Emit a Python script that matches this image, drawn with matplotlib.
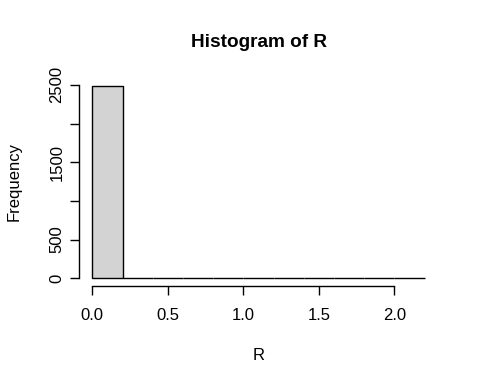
import numpy as np
import matplotlib
matplotlib.use('Agg')
import matplotlib.pyplot as plt

plt.rcParams['font.family'] = ['Liberation Sans', 'DejaVu Sans']

# histogram of R: bin edges and counts
bin_edges = [0.0, 0.2, 0.4, 0.6, 0.8, 1.0, 1.2, 1.4, 1.6, 1.8, 2.0, 2.2]
counts = [2490, 4, 2, 1, 1, 0, 1, 0, 0, 0, 1]
x_ticks = [0.0, 0.5, 1.0, 1.5, 2.0]
x_labels = ['0.0', '0.5', '1.0', '1.5', '2.0']
y_ticks = [0, 500, 1000, 1500, 2000, 2500]
y_labels = ['0', '500', '', '1500', '', '2500']

fig = plt.figure(figsize=(4.8, 3.84), dpi=100)
ax = fig.add_axes([0.1646, 0.2552, 0.9125 - 0.1646, 0.7969 - 0.2552])

edges = np.array(bin_edges)
ax.bar(edges[:-1], counts, width=np.diff(edges), align='edge',
       color='#d3d3d3', edgecolor='black', linewidth=1.0)

# R style 4% padding
xr = edges[-1] - edges[0]
ax.set_xlim(edges[0] - 0.04 * xr, edges[-1] + 0.04 * xr)
ymax = max(counts)
ax.set_ylim(-0.04 * ymax, ymax * 1.04)

for s in ['top', 'right']:
    ax.spines[s].set_visible(False)
ax.spines['left'].set_bounds(y_ticks[0], y_ticks[-1])
ax.spines['bottom'].set_bounds(x_ticks[0], x_ticks[-1])
ax.spines['left'].set_linewidth(1.0)
ax.spines['bottom'].set_linewidth(1.0)

ax.set_xticks(x_ticks)
ax.set_xticklabels(x_labels)
ax.set_yticks(y_ticks)
ax.set_yticklabels(y_labels, rotation=90, va='center')
ax.tick_params(axis='both', direction='out', length=6.5, width=1.0,
               labelsize=12, colors='black')
ax.tick_params(axis='x', pad=9)
ax.tick_params(axis='y', pad=4)

ax.set_xlabel('R', fontsize=12)
ax.xaxis.set_label_coords(0.5, -0.332)
ax.xaxis.label.set_va('center')
ax.set_ylabel('Frequency', fontsize=12)
ax.yaxis.set_label_coords(-0.181, 0.5)
ax.yaxis.label.set_va('center')
ax.set_title('Histogram of R', fontsize=13.7, fontweight='bold',
             y=1.173, va='center', pad=0)

fig.savefig('out.png', dpi=100)
